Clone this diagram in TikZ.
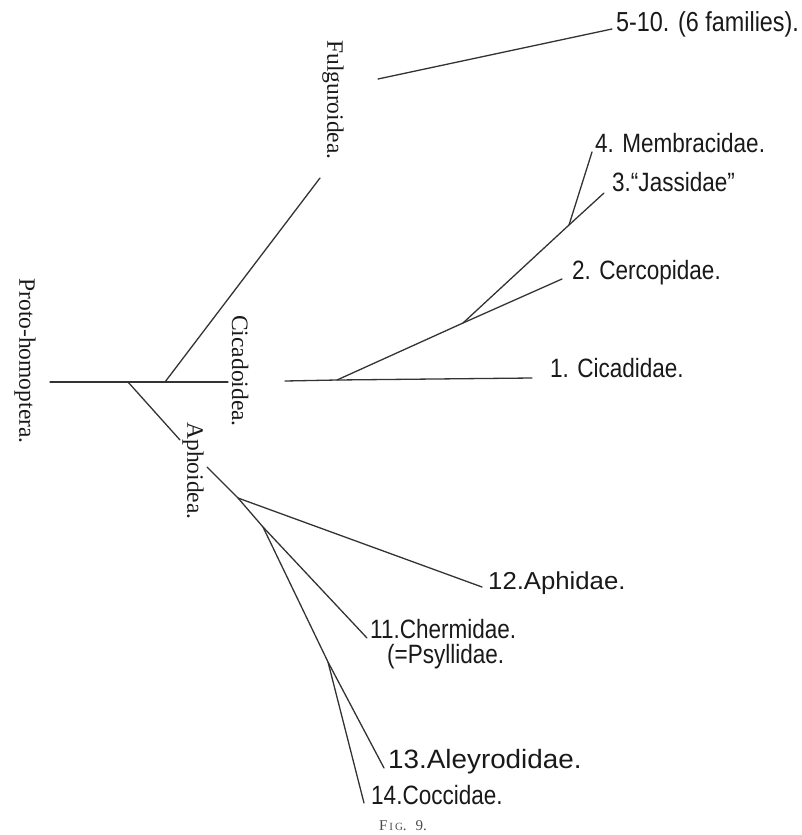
\documentclass[tikz,border=0pt]{standalone}
\usepackage{fontspec}
\usepackage{tikz}
\newfontfamily\famfont[FakeStretch=0.85]{Liberation Sans}
\newfontfamily\widefont[FakeStretch=1.05]{Liberation Sans}
\newfontfamily\grpfont{Liberation Serif}
\tikzset{
	branch/.style={line width=1.3pt, color=black!80, line cap=round},
	famlabel/.style={anchor=base west, inner sep=0pt, text=black!90, font=\famfont\fontsize{26.5}{26.5}\selectfont},
	grouplabel/.style={rotate=-90, inner sep=0pt, text=black!90, font=\grpfont\fontsize{23.5}{23.5}\selectfont},
}

\begin{document}
\begin{tikzpicture}[x=1pt, y=-1pt]
			%%%%% START %%%%%
			\useasboundingbox (0,0) rectangle (801,835);
			
			% stem
			\coordinate (root) at (50,382);
			\coordinate (aph) at (128,382);
			\coordinate (ful) at (165,382);
			\coordinate (cic) at (228,382);
			\draw[branch] (root) -- (aph) -- (ful) -- (cic);
			\node[grouplabel] (proto) at (25,361) {Proto-homoptera.};
			
			% Fulguroidea
			\coordinate (fulTop) at (320,178);
			\coordinate (fulA) at (378,79);
			\coordinate (fulB) at (612,29);
			\draw[branch] (ful) -- (fulTop);
			\draw[branch] (fulA) -- (fulB);
			\node[grouplabel] (fulg) at (333,100) {Fulguroidea.};
			\node[famlabel, font=\famfont\fontsize{27.5}{27.5}\selectfont] (f510) at (616,31) {5-10. (6 families).};
			
			% Cicadoidea
			\coordinate (cicA) at (285,381);
			\coordinate (cicB) at (337,380);
			\coordinate (cicC) at (532,378);
			\coordinate (cerB) at (463,323);
			\coordinate (cerC) at (562,279);
			\coordinate (jasB) at (569,225);
			\coordinate (jasC) at (604,193);
			\coordinate (memC) at (592,152);
			\draw[branch] (cicA) -- (cicB) -- (cicC);
			\draw[branch] (cicB) -- (cerB) -- (jasB) -- (jasC);
			\draw[branch] (cerB) -- (cerC);
			\draw[branch] (jasB) -- (memC);
			\node[grouplabel] (cicad) at (240,371) {Cicadoidea.};
			\node[famlabel] (n1) at (550,377) {1. Cicadidae.};
			\node[famlabel] (n2) at (572,279) {2. Cercopidae.};
			\node[famlabel] (n3) at (612,191) {3.“Jassidae”};
			\node[famlabel] (n4) at (595,152) {4. Membracidae.};
			
			% Aphoidea
			\coordinate (aphA) at (180,440);
			\coordinate (aphB) at (207,467);
			\coordinate (aphC) at (238,498);
			\coordinate (aphD) at (263,527);
			\coordinate (aphE) at (328,662);
			\coordinate (n11end) at (367,638);
			\coordinate (n12end) at (482,587);
			\coordinate (n13end) at (384,768);
			\coordinate (n14end) at (364,803);
			\draw[branch] (aph) -- (aphA);
			\draw[branch] (aphB) -- (aphC) -- (aphD) -- (n11end);
			\draw[branch] (aphC) -- (n12end);
			\draw[branch] (aphD) -- (aphE) -- (n13end);
			\draw[branch] (aphE) -- (n14end);
			\node[grouplabel] (aphoid) at (193,471) {Aphoidea.};
			\node[famlabel, text depth=0pt] (n11) at (370,638) {11.Chermidae.};
			\node[famlabel, text height=19pt] (n11b) at (387,663) {(=Psyllidae.};
			\node[famlabel, font=\widefont\fontsize{24.5}{24.5}\selectfont] (n12) at (488,589) {12.Aphidae.};
			\node[famlabel, font=\widefont\fontsize{26.5}{26.5}\selectfont, text depth=0pt] (n13) at (388,768) {13.Aleyrodidae.};
			\node[famlabel] (n14) at (371,804) {14.Coccidae.};
			
			\node[inner sep=0pt, text=black!70, font=\grpfont] (fig) at (403,826) {\fontsize{15}{15}\selectfont F\kern2pt{\fontsize{11}{11}\selectfont I\kern2pt G}.\hspace{9pt}9.};
			%%%%% END %%%%%
\end{tikzpicture}
\end{document}
